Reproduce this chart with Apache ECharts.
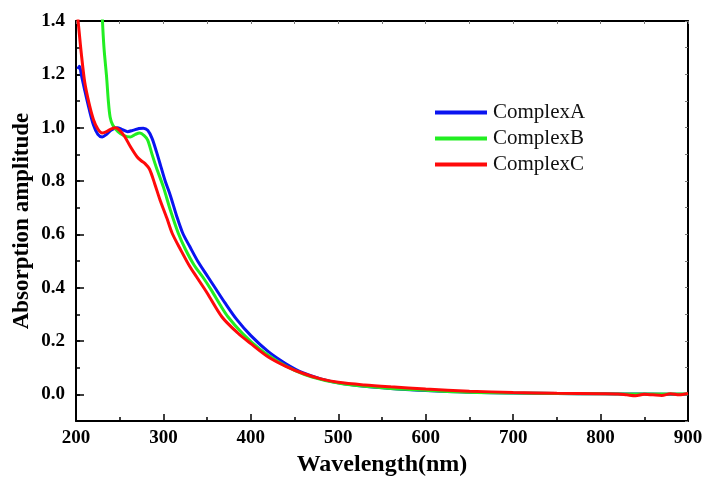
<!DOCTYPE html>
<html>
<head>
<meta charset="utf-8">
<script src="https://cdn.jsdelivr.net/npm/echarts@6/dist/echarts.min.js"></script>
<style>html,body{margin:0;padding:0;background:#fff}#c{width:708px;height:477px}</style>
</head>
<body>
<div id="c"></div>
<script>
const seriesNames = ['ComplexA', 'ComplexB', 'ComplexC'];
const complexA = [
  [202,1.22],[204,1.23],[206,1.20],[210,1.14],[215,1.07],[220,1.01],[225,0.975],[230,0.965],
  [235,0.975],[240,0.99],[247,1.0],[253,0.993],[259,0.985],[265,0.99],[272,0.997],[277,0.998],
  [282,0.99],[287,0.96],[292,0.91],[297,0.855],[302,0.80],[308,0.745],[315,0.67],[322,0.605],
  [330,0.555],[340,0.495],[351,0.44],[360,0.395],[370,0.345],[384,0.28],[400,0.22],[420,0.16],
  [440,0.115],[460,0.08],[480,0.058],[500,0.043],[530,0.03],[560,0.022],[600,0.014],[650,0.008],
  [700,0.005],[750,0.003],[800,0.002],[850,0.001],[900,0.0]
];
const complexB = [
  [228,1.6],[230,1.42],[232,1.30],[235,1.19],[237,1.10],[239,1.04],[242,1.01],[248,0.985],
  [255,0.97],[262,0.965],[268,0.975],[273,0.98],[278,0.97],[282,0.953],[287,0.90],[292,0.85],
  [300,0.777],[308,0.69],[317,0.604],[325,0.545],[335,0.485],[345,0.44],[355,0.39],[365,0.335],
  [374,0.29],[390,0.23],[410,0.17],[430,0.125],[450,0.09],[470,0.065],[500,0.042],[530,0.03],
  [560,0.022],[600,0.015],[650,0.008],[700,0.005],[750,0.003],[800,0.002],[900,0.001]
];
const complexC = [
  [201,1.45],[203,1.38],[206,1.28],[210,1.17],[215,1.09],[220,1.03],[225,0.995],[230,0.98],
  [235,0.985],[240,0.995],[245,1.0],[250,0.99],[256,0.965],[262,0.93],[270,0.89],[275,0.875],
  [279,0.865],[284,0.845],[290,0.79],[296,0.73],[304,0.66],[310,0.604],[320,0.54],[330,0.48],
  [338,0.44],[350,0.38],[367,0.29],[385,0.23],[400,0.19],[420,0.14],[440,0.105],[460,0.078],
  [480,0.058],[500,0.045],[530,0.035],[560,0.028],[600,0.02],[650,0.012],[700,0.007],[750,0.004],
  [800,0.002],[820,0.001],[830,-0.002],[840,-0.005],[850,0.0],[860,-0.002],[870,-0.004],
  [880,0.002],[890,-0.002],[900,0.003]
];
const colors = ['#0a14f0', '#22ee22', '#ff0a0a'];

const serif = 'Liberation Serif, Times New Roman, serif';
const chart = echarts.init(document.getElementById('c'));
const datasets = [complexA, complexB, complexC];
const H = 477, TOP = 21, BOTTOM = 56;
const pxPerUnit = (H - TOP - BOTTOM) / 1.5;
chart.setOption({
  animation: false,
  backgroundColor: '#fff',
  grid: [
    {left: 76, right: 20, top: TOP, bottom: BOTTOM, containLabel: false, outerBoundsMode: 'none'},
    {left: 76, right: 20, top: TOP, bottom: BOTTOM + 0.1 * pxPerUnit, containLabel: false, outerBoundsMode: 'none'}
  ],
  legend: {
    orient: 'vertical', left: 430, top: 97,
    itemWidth: 52, itemHeight: 4, itemGap: 5, icon: 'rect',
    textStyle: {fontFamily: serif, fontSize: 21, lineHeight: 21, color: '#111', padding: [0,0,0,1]},
    data: seriesNames
  },
  xAxis: [{
    gridIndex: 0, type: 'value', min: 200, max: 900, interval: 100,
    name: 'Wavelength(nm)', nameLocation: 'middle', nameGap: 31,
    nameTextStyle: {fontFamily: serif, fontSize: 24, fontWeight: 'bold', color: '#000'},
    axisLine: {show: true, onZero: false, lineStyle: {color: '#000', width: 2}},
    axisTick: {show: true, inside: true, length: 7, lineStyle: {color: '#000', width: 1.5}},
    minorTick: {show: true, splitNumber: 2, length: 4, lineStyle: {color: '#000', width: 1.5}},
    axisLabel: {fontFamily: serif, fontSize: 19, fontWeight: 'bold', color: '#000', margin: 8},
    splitLine: {show: false}
  }, {
    gridIndex: 0, type: 'value', min: 200, max: 900, interval: 50, position: 'top',
    axisLine: {show: true, onZero: false, lineStyle: {color: '#000', width: 2}},
    axisTick: {show: true, inside: true, length: 3, lineStyle: {color: '#777', width: 1}},
    axisLabel: {show: false}, splitLine: {show: false}
  }, {
    gridIndex: 1, type: 'value', min: 200, max: 900, show: false
  }],
  yAxis: [{
    gridIndex: 0, type: 'value', min: -0.1, max: 1.4, interval: 0.1,
    name: 'Absorption amplitude', nameLocation: 'middle', nameGap: 42,
    nameTextStyle: {fontFamily: serif, fontSize: 23, fontWeight: 'bold', color: '#000'},
    axisLine: {show: true, onZero: false, lineStyle: {color: '#000', width: 2}},
    axisTick: {show: true, inside: true, length: 4, lineStyle: {color: '#000', width: 1.5}},
    axisLabel: {show: false},
    splitLine: {show: false}
  }, {
    gridIndex: 0, type: 'value', min: -0.1, max: 1.4, interval: 0.1, position: 'right',
    axisLine: {show: true, onZero: false, lineStyle: {color: '#000', width: 2}},
    axisTick: {show: true, inside: true, length: 3, lineStyle: {color: '#777', width: 1}},
    axisLabel: {show: false}, splitLine: {show: false}
  }, {
    gridIndex: 1, type: 'value', min: 0, max: 1.4, interval: 0.2, position: 'left',
    axisLine: {show: false},
    axisTick: {show: true, inside: true, length: 8, lineStyle: {color: '#000', width: 1.5}},
    axisLabel: {fontFamily: serif, fontSize: 19, fontWeight: 'bold', color: '#000', margin: 11,
      formatter: v => v.toFixed(1)},
    splitLine: {show: false}
  }],
  series: datasets.map((d, i) => ({
    name: seriesNames[i], type: 'line', data: d, showSymbol: false, smooth: 0.3,
    xAxisIndex: 0, yAxisIndex: 0,
    clip: true, z: 3 + i,
    lineStyle: {color: colors[i], width: 3}, itemStyle: {color: colors[i]}
  }))
});
</script>
</body>
</html>
